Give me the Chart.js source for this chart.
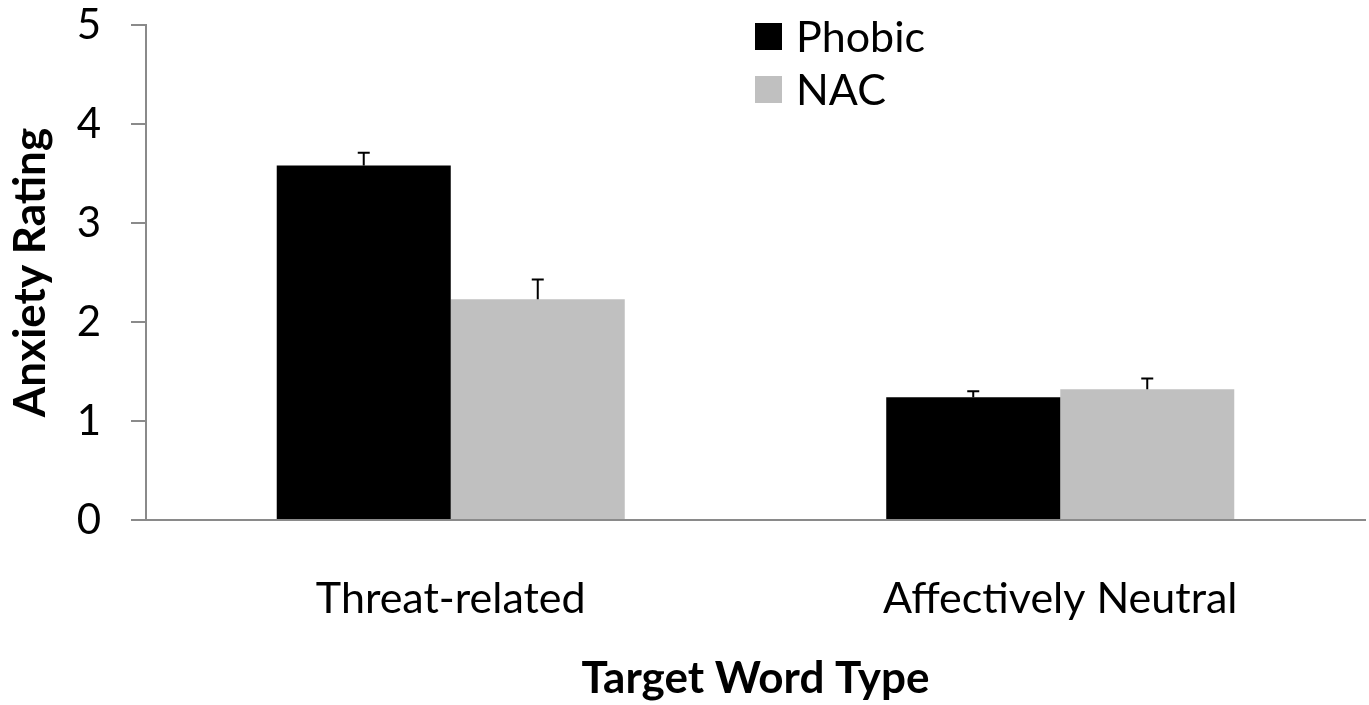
<!DOCTYPE html>
<html>
<head>
<meta charset="utf-8">
<script src="https://cdn.jsdelivr.net/npm/chart.js@4.4.1/dist/chart.umd.min.js"></script>
<style>
  html, body { margin: 0; padding: 0; background: #fff; }
  #wrap { width: 1369px; height: 705px; position: relative; }
</style>
</head>
<body>
<div id="wrap"><canvas id="chart_anxietyRating"></canvas></div>
<script>
var categories = ['Threat-related', 'Affectively Neutral'];
var phobicValues = [3.58, 1.24];
var nacValues = [2.23, 1.32];
var phobicErrors = [0.13, 0.06];
var nacErrors = [0.20, 0.11];
var yTicks = [0, 1, 2, 3, 4, 5];

var FONT = "Lato, 'Open Sans', sans-serif";
var AXIS_GREY = '#8a8a8a';

var errorBarPlugin = {
    id: 'errorBars',
    afterDatasetsDraw: (chart) => {
        const ctx = chart.ctx;
        const y = chart.scales.y;
        const errs = [phobicErrors, nacErrors];
        ctx.save();
        ctx.strokeStyle = '#000';
        ctx.lineWidth = 2;
        chart.data.datasets.forEach((ds, i) => {
            const meta = chart.getDatasetMeta(i);
            meta.data.forEach((bar, j) => {
                const top = y.getPixelForValue(ds.data[j] + errs[i][j]);
                ctx.beginPath();
                ctx.moveTo(bar.x, bar.y);
                ctx.lineTo(bar.x, top);
                ctx.moveTo(bar.x - 6, top);
                ctx.lineTo(bar.x + 6, top);
                ctx.stroke();
            });
        });
        ctx.restore();
    }
};

var legendPlugin = {
    id: 'innerLegend',
    afterDraw: (chart) => {
        const ctx = chart.ctx;
        ctx.save();
        ctx.font = '43px ' + FONT;
        ctx.textBaseline = 'middle';
        chart.data.datasets.forEach((ds, i) => {
            const cy = 36 + i * 53;
            ctx.fillStyle = ds.backgroundColor;
            ctx.fillRect(755, cy - 13, 27, 27);
            ctx.fillStyle = '#000';
            ctx.fillText(ds.label, 796, cy + 2);
        });
        ctx.restore();
    }
};

var chart_anxietyRating = new Chart(document.getElementById('chart_anxietyRating'), {
    type: 'bar',
    data: {
        labels: categories,
        datasets: [
            {
                label: 'Phobic',
                data: phobicValues,
                backgroundColor: '#000000',
                categoryPercentage: 0.571,
                barPercentage: 1.0
            },
            {
                label: 'NAC',
                data: nacValues,
                backgroundColor: '#c0c0c0',
                categoryPercentage: 0.571,
                barPercentage: 1.0
            }
        ]
    },
    options: {
        animation: false,
        responsive: true,
        maintainAspectRatio: false,
        layout: {
            padding: { top: 25, right: 4, left: 0, bottom: 0 }
        },
        plugins: {
            legend: { display: false },
            tooltip: { enabled: false }
        },
        scales: {
            x: {
                afterFit: (scale) => { scale.height = 185; },
                grid: { display: false },
                border: { display: true, color: AXIS_GREY, width: 2 },
                ticks: {
                    color: '#000',
                    padding: 45,
                    font: { family: FONT, size: 43 }
                },
                title: {
                    display: true,
                    text: 'Target Word Type',
                    color: '#000',
                    font: { family: FONT, size: 44, weight: 'bold' },
                    padding: { top: 0, bottom: 0 }
                }
            },
            y: {
                min: 0,
                max: 5,
                afterFit: (scale) => {
                    scale.width = 146;
                    scale.paddingTop = 0;
                    scale.paddingBottom = 0;
                },
                afterBuildTicks: (scale) => { scale.ticks = yTicks.map(v => ({ value: v })); },
                grid: {
                    drawOnChartArea: false,
                    drawTicks: true,
                    tickLength: 15,
                    color: AXIS_GREY,
                    lineWidth: 2
                },
                border: { display: true, color: AXIS_GREY, width: 2 },
                ticks: {
                    color: '#000',
                    padding: 30,
                    font: { family: FONT, size: 42 }
                },
                title: {
                    display: true,
                    text: 'Anxiety Rating',
                    color: '#000',
                    font: { family: FONT, size: 44, weight: 'bold' },
                    padding: { top: 4, bottom: 0 }
                }
            }
        }
    },
    plugins: [errorBarPlugin, legendPlugin, {
        id: 'whiteBg',
        beforeDraw: (chart) => {
            const ctx = chart.canvas.getContext('2d');
            ctx.save();
            ctx.globalCompositeOperation = 'destination-over';
            ctx.fillStyle = 'white';
            ctx.fillRect(0, 0, chart.canvas.width, chart.canvas.height);
            ctx.restore();
        }
    }]
});
</script>
</body>
</html>
